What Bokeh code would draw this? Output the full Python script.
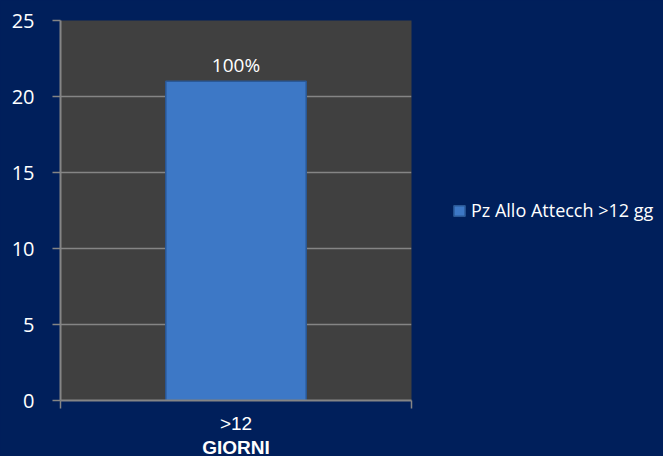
from bokeh.plotting import figure
from bokeh.models import Range1d, FixedTicker, Legend, LegendItem, ColumnDataSource
from bokeh.core.properties import value
from bokeh.embed import file_html
from bokeh.resources import INLINE

# ---- data ----
categories = [">12"]
values = [21]
bar_labels = ["100%"]
series_name = "Pz Allo Attecch >12 gg"
x_title = "GIORNI"
y_ticks = [0, 5, 10, 15, 20, 25]

BG = "#001f5b"
PLOT_BG = "#404040"
GRID = "#858585"

xs = [i + 0.5 for i in range(len(categories))]
edges = list(range(len(categories) + 1))
src = ColumnDataSource(dict(x=xs, top=values, label=bar_labels))

p = figure(frame_width=351, frame_height=380, output_backend="svg", toolbar_location=None,
           x_range=Range1d(0, len(categories)), y_range=Range1d(0, 25),
           min_border_left=60, min_border_right=252, min_border_top=20, min_border_bottom=56)
p.border_fill_color = BG
p.background_fill_color = PLOT_BG
p.outline_line_color = None

bar = p.vbar(x="x", top="top", width=0.4, bottom=0, source=src,
             fill_color="#3d78c6", line_color="#2a5896", line_width=1.5)
p.text(x="x", y="top", text="label", source=src, text_align="center",
       text_baseline="bottom", y_offset=-3, text_color="white",
       text_font=value("Open Sans"), text_font_size="19px")

# axes
p.xaxis.ticker = FixedTicker(ticks=xs, minor_ticks=edges)
p.xaxis.major_label_overrides = {x: c for x, c in zip(xs, categories)}
p.xaxis.major_tick_out = 0
p.xaxis.major_tick_in = 0
p.xaxis.minor_tick_out = 8
p.xaxis.minor_tick_in = 0
p.xaxis.minor_tick_line_color = GRID
p.xaxis.minor_tick_line_width = 1.5
p.xaxis.axis_line_color = GRID
p.xaxis.axis_line_width = 2
p.xaxis.major_label_text_color = "white"
p.xaxis.major_label_text_font = "Liberation Sans"
p.xaxis.major_label_text_font_size = "19px"
p.xaxis.major_label_standoff = 4
p.xaxis.axis_label = x_title
p.xaxis.axis_label_text_color = "white"
p.xaxis.axis_label_text_font = "Liberation Sans"
p.xaxis.axis_label_text_font_style = "bold"
p.xaxis.axis_label_text_font_size = "19px"
p.xaxis.axis_label_standoff = 0

p.yaxis.ticker = FixedTicker(ticks=y_ticks)
p.yaxis.minor_tick_line_color = None
p.yaxis.major_tick_out = 8
p.yaxis.major_tick_in = 0
p.yaxis.major_tick_line_color = GRID
p.yaxis.major_tick_line_width = 1.5
p.yaxis.axis_line_color = GRID
p.yaxis.axis_line_width = 2
p.yaxis.major_label_text_color = "white"
p.yaxis.major_label_text_font = "Open Sans"
p.yaxis.major_label_text_font_size = "20px"
p.yaxis.major_label_standoff = 18

p.xgrid.grid_line_color = None
p.ygrid.ticker = FixedTicker(ticks=y_ticks)
p.ygrid.grid_line_color = GRID
p.ygrid.grid_line_width = 1.5

legend = Legend(items=[LegendItem(label=series_name, renderers=[bar])],
                location="center_left", padding=0, margin=41, spacing=0,
                border_line_alpha=0, background_fill_alpha=0,
                glyph_width=14, glyph_height=13, label_standoff=5,
                label_text_color="white", label_text_font="Open Sans",
                label_text_font_size="18px")
p.add_layout(legend, "right")

html = file_html(p, INLINE)
html = html.replace("</head>", "<style>html,body{background:#001f5b;overflow:hidden;}</style></head>", 1)
open("out.html", "w").write(html)
